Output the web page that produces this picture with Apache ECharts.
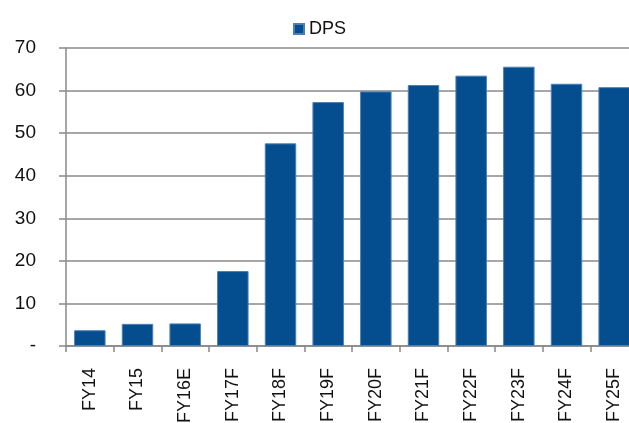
<!DOCTYPE html>
<html>
<head>
<meta charset="utf-8">
<script src="https://cdn.jsdelivr.net/npm/echarts@6/dist/echarts.min.js"></script>
<style>
html,body{margin:0;padding:0;background:#fff;overflow:hidden;}
#chart{width:629px;height:423px;}
</style>
</head>
<body>
<div id="chart"></div>
<script>
const categories = ['FY14','FY15','FY16E','FY17F','FY18F','FY19F','FY20F','FY21F','FY22F','FY23F','FY24F','FY25F'];
const dps = [3.7, 5.2, 5.3, 17.6, 47.6, 57.3, 59.8, 61.3, 63.5, 65.6, 61.6, 60.8];
const yTicks = [0, 10, 20, 30, 40, 50, 60, 70];
const seriesName = 'DPS';

const chart = echarts.init(document.getElementById('chart'), null, {renderer: 'canvas', width: 629, height: 423});
const font = 'Liberation Sans, Arial, sans-serif';
chart.setOption({
  backgroundColor: '#ffffff',
  animation: false,
  legend: {
    data: [seriesName],
    top: 15,
    left: 288,
    itemWidth: 10,
    itemHeight: 10,
    itemGap: 4,
    icon: 'rect',
    textStyle: {fontFamily: font, fontSize: 18, color: '#111'}
  },
  grid: {left: 66, width: 572, top: 48, height: 298, containLabel: false, outerBoundsMode: 'none'},
  xAxis: {
    type: 'category',
    data: categories,
    boundaryGap: true,
    axisLine: {show: true, lineStyle: {color: '#888', width: 1.5}},
    axisTick: {show: true, alignWithLabel: false, length: 6, lineStyle: {color: '#888', width: 1.5}},
    axisLabel: {rotate: 90, margin: 22, fontFamily: font, fontSize: 18, color: '#111', interval: 0}
  },
  yAxis: {
    type: 'value',
    min: yTicks[0],
    max: yTicks[yTicks.length - 1],
    interval: 10,
    axisLine: {show: true, lineStyle: {color: '#888', width: 1.5}},
    axisTick: {show: true, inside: false, length: 7, lineStyle: {color: '#888', width: 1.5}},
    splitLine: {show: true, lineStyle: {color: '#8a8a8a', width: 1.5}},
    axisLabel: {
      margin: 30,
      fontFamily: font,
      fontSize: 19,
      color: '#111',
      formatter: v => v === 0 ? '-' : String(v)
    }
  },
  series: [{
    name: seriesName,
    type: 'bar',
    data: dps,
    barWidth: '66%',
    itemStyle: {color: '#044d8f', borderColor: '#4a7fb5', borderWidth: 1}
  }]
});
</script>
</body>
</html>
